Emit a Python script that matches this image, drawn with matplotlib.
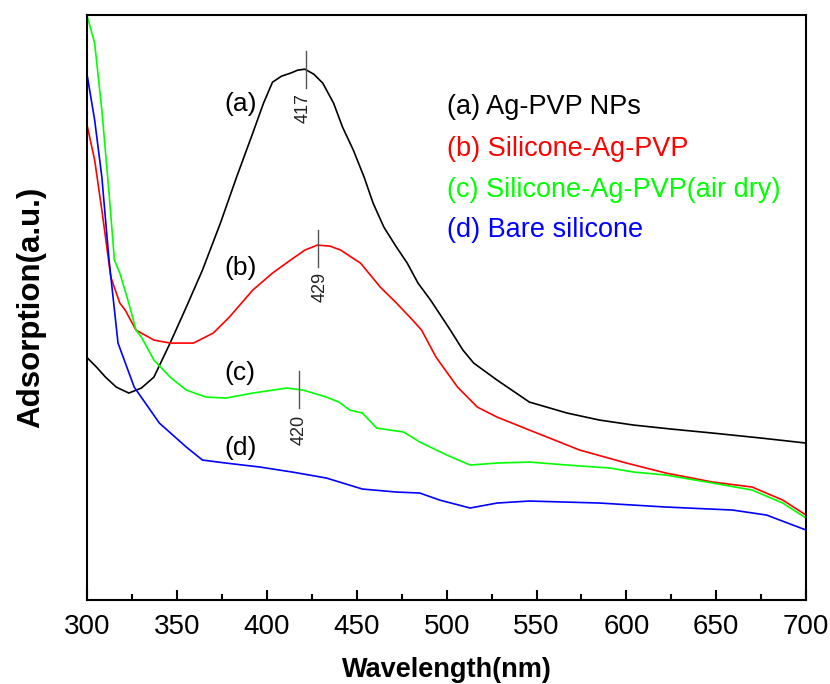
import matplotlib.pyplot as plt
from matplotlib.ticker import MultipleLocator

plt.rcParams['font.family'] = ['Liberation Sans', 'DejaVu Sans']

# values (arbitrary absorbance units)
wl_a = [300, 305, 310, 316, 323, 330, 337, 346, 355, 364, 374, 383, 392, 398, 403, 408,
        413, 417, 421, 426, 431, 437, 442, 448, 454, 459, 465, 472, 478, 484, 491, 502,
        509, 515, 528, 546, 567, 585, 604, 625, 648, 675, 700]
abs_a = [242, 233, 223, 213, 207, 212, 223, 257, 293, 330, 377, 423, 467, 497, 518, 524,
         527, 530, 531, 526, 517, 497, 473, 450, 423, 397, 373, 353, 337, 317, 300, 270,
         250, 237, 220, 198, 187, 180, 175, 171, 167, 162, 157]

wl_b = [300, 304, 308, 313, 318, 321, 327, 337, 346, 359, 370, 379, 392, 403, 413, 421,
        428, 435, 441, 446, 452, 463, 472, 481, 486, 494, 506, 517, 528, 546, 574, 600,
        622, 648, 670, 687, 700]
abs_b = [473, 440, 390, 323, 297, 290, 270, 260, 257, 257, 267, 283, 310, 327, 340, 350,
         355, 354, 350, 344, 337, 313, 297, 280, 270, 243, 213, 193, 183, 170, 150, 137,
         127, 118, 113, 100, 85]

wl_c = [300, 304, 308, 312, 315, 318, 323, 327, 330, 337, 346, 355, 366, 377, 392, 411,
        420, 433, 440, 446, 453, 461, 476, 485, 500, 513, 528, 546, 567, 591, 604, 622,
        648, 670, 687, 700]
abs_c = [583, 557, 490, 407, 340, 327, 297, 270, 263, 240, 223, 210, 203, 202, 207, 212,
         210, 203, 198, 190, 187, 172, 168, 158, 145, 135, 137, 138, 135, 132, 128, 125,
         117, 110, 97, 82]

wl_d = [300, 304, 308, 312, 317, 326, 340, 355, 364, 377, 396, 414, 433, 453, 472, 485,
        496, 513, 528, 546, 585, 622, 659, 678, 700]
abs_d = [523, 480, 423, 340, 257, 213, 177, 153, 140, 137, 133, 128, 122, 111, 108, 107,
         100, 92, 97, 99, 97, 93, 90, 85, 70]

labels = ['(a) Ag-PVP NPs', '(b) Silicone-Ag-PVP',
          '(c) Silicone-Ag-PVP(air dry)', '(d) Bare silicone']
colors = ['black', '#ff0000', '#00ff00', '#0000ff']
peaks = ['417', '429', '420']

fig = plt.figure(figsize=(8.3, 6.84), dpi=100)
ax = fig.add_axes([0.1054, 0.1228, 0.8657, 0.855])

for x, y, c in zip([wl_a, wl_b, wl_c, wl_d], [abs_a, abs_b, abs_c, abs_d], colors):
    ax.plot(x, y, color=c, lw=1.2)

# curve letters
for s, yy in zip(['(a)', '(b)', '(c)', '(d)'], [496, 332, 227, 152]):
    ax.text(385, yy, s, fontsize=19, ha='center', va='center')

# legend as coloured text
for s, c, yy in zip(labels, colors, [493, 451, 410, 370]):
    ax.text(500, yy, s, color=c, fontsize=19.5, ha='left', va='center')

# peak markers
for p, xl, y0, y1, xt, yt in zip(peaks, [421.5, 428.4, 417.8], [512, 333, 192],
                                  [549, 370, 229], [420, 429.5, 418], [492, 313, 170]):
    ax.plot([xl, xl], [y0, y1], color='#555555', lw=1)
    ax.text(xt, yt, p, rotation=90, fontsize=13, ha='center', va='center', color='#222222')

ax.set_xlim(300, 700)
ax.set_ylim(0, 585)
ax.xaxis.set_major_locator(MultipleLocator(50))
ax.xaxis.set_minor_locator(MultipleLocator(25))
ax.tick_params(axis='x', which='major', direction='in', length=7, width=1.5,
               labelsize=20, pad=10)
ax.tick_params(axis='x', which='minor', direction='in', length=4.5, width=1.5)
ax.set_yticks([])
for sp in ax.spines.values():
    sp.set_linewidth(1.5)

ax.set_xlabel('Wavelength(nm)', fontsize=19.5, fontweight='bold', labelpad=12)
ax.set_ylabel('Adsorption(a.u.)', fontsize=22.5, fontweight='bold', labelpad=30)

fig.savefig('out.png', dpi=100)
